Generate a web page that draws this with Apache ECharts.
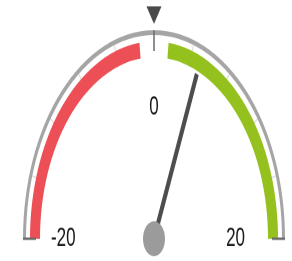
<!DOCTYPE html>
<html>
<head>
<meta charset="utf-8">
<script src="https://cdn.jsdelivr.net/npm/echarts@6/dist/echarts.min.js"></script>
<style>
  html, body { margin: 0; padding: 0; background: #fff; overflow: hidden; }
  #wrap { width: 292px; height: 261px; overflow: hidden; }
  /* the gauge in the picture is an upright ellipse, so draw it round and stretch it */
  #chart { width: 292px; height: 164px; transform: scaleY(1.5915); transform-origin: 0 0; }
</style>
</head>
<body>
<div id="wrap"><div id="chart"></div></div>
<script>
const axisMin = -20
const axisMax = 20
const needleValue = 5
const targetValue = 0
const lowBand = [-20, -1.5]
const highBand = [1.5, 20]
const sideLabels = [-20, 20]
const midLabel = 0

const chart = echarts.init(document.getElementById('chart'), null, { devicePixelRatio: 2 })
const center = [154, 150]
const frac = v => (v - axisMin) / (axisMax - axisMin)
const font = 'Liberation Sans, Arial, sans-serif'

function gauge(opts) {
  return Object.assign({
    type: 'gauge',
    startAngle: 180,
    endAngle: 0,
    min: axisMin,
    max: axisMax,
    center: center,
    radius: 131,
    axisLine: { show: false, lineStyle: { width: 0 } },
    axisTick: { show: false },
    splitLine: { show: false, length: 0, distance: 0 },
    axisLabel: { show: false },
    pointer: { show: false },
    anchor: { show: false },
    title: { show: false },
    detail: { show: false },
    silent: true,
    data: []
  }, opts)
}

const option = {
  animation: false,
  series: [
    // outer grey rim with light ticks
    gauge({
      splitNumber: 10,
      axisLine: { show: true, lineStyle: { width: 3, color: [[1, '#a5a5a5']] } },
      splitLine: { show: true, length: 5, distance: 0, lineStyle: { color: '#dcdcdc', width: 1 } }
    }),
    // red / green bands
    gauge({
      radius: 124,
      axisLine: {
        show: true,
        lineStyle: {
          width: 10,
          color: [
            [frac(lowBand[1]), '#ec5056'],
            [frac(highBand[0]), 'rgba(0,0,0,0)'],
            [1, '#95c11f']
          ]
        }
      }
    }),
    // end caps and centre mark
    gauge({
      splitNumber: 2,
      splitLine: { show: true, length: 13, distance: 0, lineStyle: { color: '#6a6a6a', width: 1.5 } }
    }),
    // -20 / 20 labels
    gauge({
      center: [148, 150],
      radius: 97,
      splitNumber: 1,
      axisLabel: {
        show: true, distance: 0, fontSize: 17, color: '#1a1a1a', fontFamily: font,
        formatter: v => sideLabels.includes(v) ? String(v) : ''
      }
    }),
    // 0 label
    gauge({
      radius: 91,
      splitNumber: 2,
      axisLabel: {
        show: true, distance: 0, fontSize: 17, color: '#1a1a1a', fontFamily: font,
        formatter: v => v === midLabel ? String(v) : ''
      }
    }),
    // needle with knob
    gauge({
      data: [{ value: needleValue }],
      pointer: { show: true, icon: 'rect', length: 112, width: 4, itemStyle: { color: '#4d4d4d' } },
      anchor: { show: true, showAbove: true, size: 22, itemStyle: { color: '#9b9b9b' } }
    }),
    // target triangle on top
    gauge({
      data: [{ value: targetValue }],
      pointer: {
        show: true,
        icon: 'path://M0,0 L10,0 L5,10 Z',
        keepAspect: false,
        length: 11,
        width: 15,
        offsetCenter: [0, -135],
        itemStyle: { color: '#4a4a4a' }
      }
    })
  ]
}

chart.setOption(option)
</script>
</body>
</html>
